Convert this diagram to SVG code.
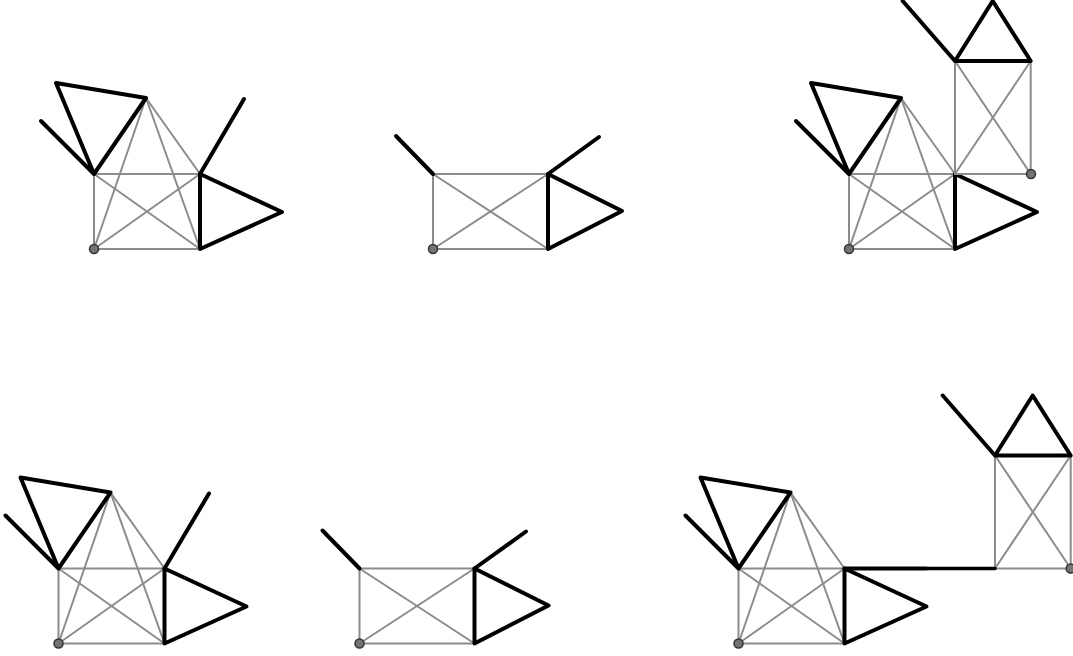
<svg xmlns="http://www.w3.org/2000/svg" width="1073" height="656" viewBox="0 0 1073 656">
<style>
.g{stroke:#8c8c8c;stroke-width:2;fill:none;stroke-linecap:round}
.k{stroke:#000;stroke-width:4;fill:none;stroke-linecap:round;stroke-linejoin:round}
.dot{fill:#737373;stroke:#333;stroke-width:1.5}
</style>
<rect width="1073" height="656" fill="#fff"/>
<defs>
<g id="k5">
<line class="g" x1="94" y1="249" x2="94" y2="174"/>
<line class="g" x1="94" y1="174" x2="200" y2="174"/>
<line class="g" x1="94" y1="249" x2="200" y2="249"/>
<line class="g" x1="94" y1="249" x2="200" y2="174"/>
<line class="g" x1="94" y1="174" x2="200" y2="249"/>
<line class="g" x1="94" y1="249" x2="146" y2="98"/>
<line class="g" x1="146" y1="98" x2="200" y2="174"/>
<line class="g" x1="146" y1="98" x2="200" y2="249"/>
<polyline class="k" points="94,174 146,98 56,83 94,174 41,121"/>
<polyline class="k" points="200,174 200,249 282,212 200,174"/>
</g>
<g id="sq">
<line class="g" x1="433" y1="249" x2="433" y2="174"/>
<line class="g" x1="433" y1="174" x2="548" y2="174"/>
<line class="g" x1="433" y1="249" x2="548" y2="249"/>
<line class="g" x1="433" y1="249" x2="548" y2="174"/>
<line class="g" x1="433" y1="174" x2="548" y2="249"/>
<line class="k" x1="433" y1="174" x2="396" y2="136"/>
<polyline class="k" points="548,174 548,249 622,211 548,174"/>
</g>
<g id="up">
<line class="g" x1="0" y1="0" x2="0" y2="-113"/>
<line class="g" x1="75.7" y1="0" x2="75.7" y2="-113"/>
<line class="g" x1="0" y1="0" x2="75.7" y2="-113"/>
<line class="g" x1="0" y1="-113" x2="75.7" y2="0"/>
<polyline class="k" points="0,-113 75.7,-113 37.7,-173 0,-113 -52.3,-173"/>
</g>
</defs>
<g id="connectors"></g>
<g id="fig1">
<use href="#k5"/>
<line class="k" x1="200" y1="174" x2="244" y2="99"/>
<circle class="dot" cx="94" cy="249" r="4.5"/>
</g>
<g id="fig2">
<use href="#sq"/>
<line class="k" x1="548" y1="174" x2="599" y2="137"/>
<circle class="dot" cx="433" cy="249" r="4.5"/>
</g>
<g id="fig3">
<use href="#k5" transform="translate(755,0)"/>
<line class="g" x1="955" y1="174" x2="1031" y2="174"/>
<use href="#up" transform="translate(955,174)"/>
<circle class="dot" cx="849" cy="249" r="4.5"/>
<circle class="dot" cx="1031" cy="174" r="4.5"/>
</g>
<g id="fig4">
<use href="#k5" transform="translate(-35.5,394.5)"/>
<line class="k" x1="164.5" y1="568.5" x2="209" y2="493.5"/>
<circle class="dot" cx="58.5" cy="643.5" r="4.5"/>
</g>
<g id="fig5">
<use href="#sq" transform="translate(-73.5,394.5)"/>
<line class="k" x1="474.5" y1="568.5" x2="526" y2="531.5"/>
<circle class="dot" cx="359.5" cy="643.5" r="4.5"/>
</g>
<g id="fig6">
<use href="#k5" transform="translate(644.5,394.5)"/>
<line class="g" x1="995" y1="568.5" x2="1070.7" y2="568.5"/>
<use href="#up" transform="translate(995,568.5)"/>
<line class="k" x1="844.5" y1="568.5" x2="926.5" y2="568.5" stroke-linecap="butt"/>
<line class="k" x1="927.5" y1="568.5" x2="995" y2="568.5" style="stroke-width:3.4" stroke-linecap="butt"/>
<circle class="dot" cx="738.5" cy="643.5" r="4.5"/>
<circle class="dot" cx="1070.7" cy="568.5" r="4.5"/>
</g>
</svg>
